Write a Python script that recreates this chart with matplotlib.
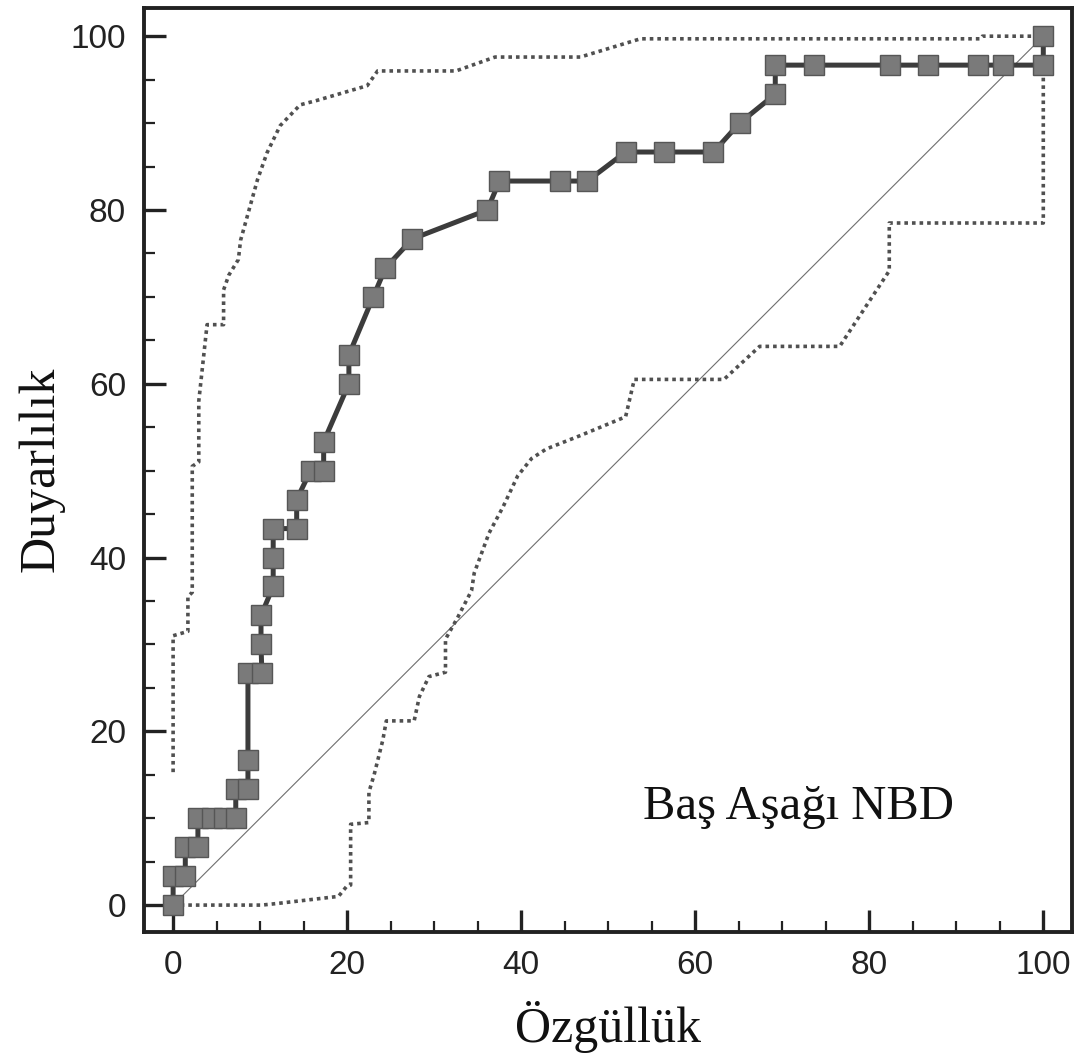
#!/usr/bin/env python3
"""ROC curve with confidence band for the head-down NBD measurement."""

import matplotlib

matplotlib.use("Agg")
import matplotlib.pyplot as plt
from matplotlib.ticker import MultipleLocator

# ROC operating points (x: 100 - specificity, y: sensitivity), in %
roc_x = [0.0, 0.0, 1.4, 1.4, 2.85, 2.85, 4.5, 5.9, 7.2, 7.2, 8.6, 8.6, 8.6, 10.2,
         10.1, 10.1, 11.5, 11.5, 11.5, 14.2, 14.2, 15.8, 17.3, 17.3, 20.2, 20.2,
         23.0, 24.4, 27.5, 36.1, 37.5, 44.5, 47.6, 52.0, 56.4, 62.1, 65.1, 69.2,
         69.2, 73.6, 82.4, 86.7, 92.5, 95.4, 100.0, 100.0]
roc_y = [0.0, 3.33, 3.33, 6.67, 6.67, 10.0, 10.0, 10.0, 10.0, 13.33, 13.33, 16.67,
         26.67, 26.67, 30.0, 33.33, 36.67, 40.0, 43.33, 43.33, 46.67, 50.0, 50.0,
         53.33, 60.0, 63.33, 70.0, 73.33, 76.67, 80.0, 83.33, 83.33, 83.33, 86.67,
         86.67, 86.67, 90.0, 93.33, 96.67, 96.67, 96.67, 96.67, 96.67, 96.67,
         96.67, 100.0]

# upper confidence bound
upper_x = [0.0, 0.0, 1.7, 1.7, 2.2, 2.2, 2.95, 2.95, 3.9, 5.8, 5.8, 6.4, 7.5,
           7.75, 9.7, 10.8, 12.3, 14.6, 16.5, 22.3, 23.5, 32.5, 37.0, 46.8, 53.7,
           92.8, 93.0, 100.0]
upper_y = [15.3, 31.0, 31.5, 35.5, 36.0, 50.5, 51.0, 58.0, 66.8, 66.8, 70.8, 72.5,
           74.3, 76.5, 83.5, 86.6, 89.7, 92.1, 92.6, 94.3, 96.0, 96.0, 97.6, 97.6,
           99.7, 99.7, 100.0, 100.0]

# lower confidence bound
lower_x = [0.0, 10.2, 12.1, 19.0, 19.9, 20.4, 20.4, 22.5, 22.5, 23.1, 24.1, 24.5,
           27.7, 28.3, 29.4, 31.3, 31.3, 32.7, 34.3, 34.6, 36.3, 37.9, 39.6, 41.2,
           42.9, 46.7, 52.0, 53.0, 63.3, 67.4, 76.6, 82.3, 82.3, 100.0, 100.0]
lower_y = [0.0, 0.0, 0.2, 1.0, 2.1, 2.3, 9.3, 9.5, 13.0, 15.0, 19.0, 21.2,
           21.2, 24.0, 26.3, 26.8, 30.6, 33.1, 36.2, 38.2, 42.8, 45.8, 49.4, 51.4,
           52.5, 54.0, 56.2, 60.5, 60.5, 64.3, 64.3, 73.0, 78.5, 78.5, 96.67]

fig = plt.figure(figsize=(10.8, 10.59), dpi=100)
ax = fig.add_axes([0.1333, 0.1199, 0.8593, 0.8730])

serif = ["Liberation Serif", "DejaVu Serif"]
sans = ["Liberation Sans", "DejaVu Sans"]

# chance diagonal
ax.plot([0, 100], [0, 100], color="#6e6e6e", linewidth=0.8, zorder=1)

dot_style = dict(color="#505050", linewidth=2.6, linestyle=(0, (1, 1.1)),
                 dash_capstyle="butt", zorder=2)
ax.plot(upper_x, upper_y, **dot_style)
ax.plot(lower_x, lower_y, **dot_style)

ax.plot(roc_x, roc_y, color="#3c3c3c", linewidth=3.6, zorder=3)
ax.plot(roc_x, roc_y, linestyle="none", marker="s", markersize=15,
        markerfacecolor="#7a7a7a", markeredgecolor="#565656",
        markeredgewidth=1.0, zorder=4)

ax.text(71.9, 11.3, "Baş Aşağı NBD", family=serif, fontsize=35,
        ha="center", va="center", color="#111111")

ax.set_xlim(-3.35, 103.3)
ax.set_ylim(-3.1, 103.3)
ax.xaxis.set_major_locator(MultipleLocator(20))
ax.xaxis.set_minor_locator(MultipleLocator(5))
ax.yaxis.set_major_locator(MultipleLocator(20))
ax.yaxis.set_minor_locator(MultipleLocator(5))

ax.tick_params(which="major", direction="in", length=16, width=2.4,
               color="#222222", pad=13, labelsize=24, labelcolor="#222222")
ax.tick_params(which="minor", direction="in", length=8, width=1.6,
               color="#222222")
for lab in ax.get_xticklabels() + ax.get_yticklabels():
    lab.set_family(sans)

for spine in ax.spines.values():
    spine.set_linewidth(2.8)
    spine.set_color("#222222")

ax.set_xlabel("Özgüllük", family=serif, fontsize=36, labelpad=14, color="#111111")
ax.set_ylabel("Duyarlılık", family=serif, fontsize=36, labelpad=4, color="#111111")

fig.savefig("out.png", dpi=100)
plt.close(fig)
